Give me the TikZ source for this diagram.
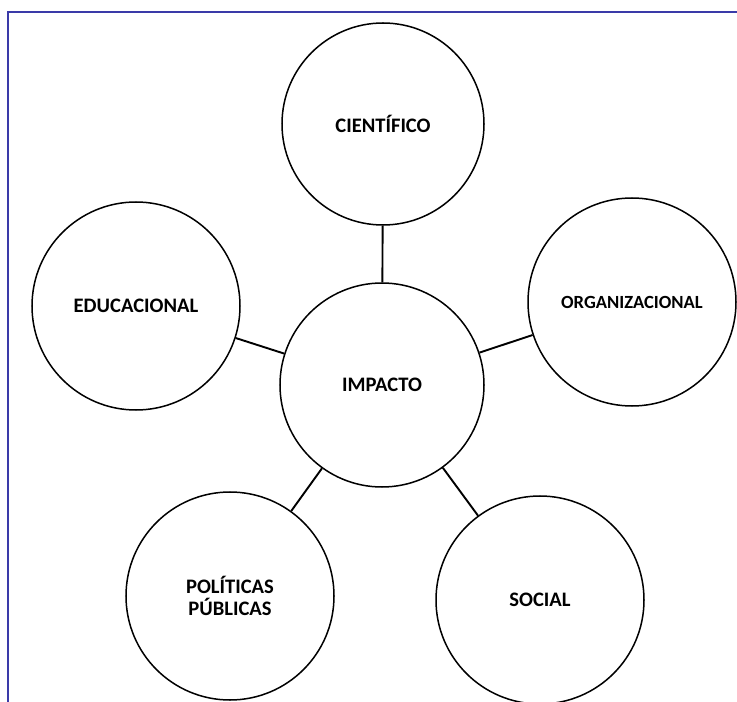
\documentclass[tikz,border=0pt]{standalone}
\usepackage{fontspec}
\setmainfont{Carlito}
\usepackage{tikz}
\definecolor{frameblue}{RGB}{58,58,168}

\begin{document}
\begin{tikzpicture}[x=0.35mm,y=-0.35mm,
				area/.style={circle, draw, line width=1.5pt, inner sep=0pt,
					minimum size=208*0.35mm, align=center,
					font=\fontsize{20.5}{22}\selectfont\bfseries},
				link/.style={line width=1.9pt}]
			\useasboundingbox (0,0) rectangle (737,702);
			\clip (0,0) rectangle (737,702);
			\draw[frameblue, line width=1.6pt] (8,702) -- (8,12) -- (737,12);
			% centro
			\node[area, minimum size=204*0.35mm] (impacto) at (382,385) {IMPACTO};
			% areas de impacto
			\node[area, minimum size=202*0.35mm] (cientifico) at (383,124) {CIENTÍFICO};
			\node[area] (educacional) at (136,306) {EDUCACIONAL};
			\node[area, font=\fontsize{18.5}{20}\selectfont\bfseries] (organizacional) at (632,302) {ORGANIZACIONAL};
			\node[area] (politicas) at (230,596) {POLÍTICAS\\PÚBLICAS};
			\node[area] (social) at (540,600) {SOCIAL};
			% ligacoes
			\foreach \n in {cientifico,educacional,organizacional,politicas,social}
				\draw[link] (impacto) -- (\n);
		\end{tikzpicture}
\end{document}
